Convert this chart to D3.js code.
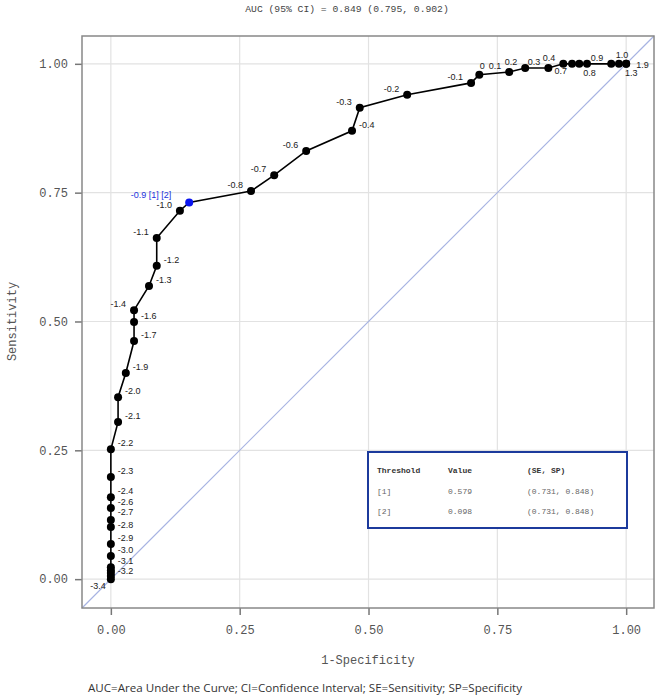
<!DOCTYPE html>
<html>
<head>
<meta charset="utf-8">
<script src="https://cdn.jsdelivr.net/npm/d3@7"></script>
<style>
  body { margin: 0; background: #fff; }
  svg { display: block; }
</style>
</head>
<body>
<svg id="chart"></svg>
<script>
const width = 659;
const height = 700;

// ROC points, from (0,0) up to (1,1)
const thresholds = ["-3.4", "", "-3.2", "", "-3.1", "-3.0", "-2.9", "-2.8", "-2.7", "-2.6", "-2.4", "-2.3", "-2.2",
  "-2.1", "-2.0", "-1.9", "-1.7", "-1.6", "-1.4", "-1.3", "-1.2", "-1.1", "-1.0", "-0.9 [1] [2]", "-0.8", "-0.7", "-0.6",
  "-0.4", "-0.3", "-0.2", "-0.1", "0", "0.1", "0.2", "0.3", "0.4", "0.7", "0.8", "", "0.9", "1.0", "1.3", "1.9"];
const fpr = [0, 0, 0, 0, 0, 0, 0, 0, 0, 0, 0, 0, 0,
  0.014, 0.014, 0.029, 0.045, 0.045, 0.045, 0.074, 0.089, 0.089, 0.134, 0.152, 0.272, 0.317, 0.379,
  0.468, 0.483, 0.575, 0.699, 0.715, 0.773, 0.804, 0.849, 0.878, 0.895, 0.909, 0.924, 0.971, 0.986, 1.0, 1.0];
const sens = [0, 0.006, 0.012, 0.017, 0.023, 0.045, 0.068, 0.101, 0.115, 0.138, 0.159, 0.198, 0.252,
  0.305, 0.353, 0.400, 0.462, 0.499, 0.522, 0.569, 0.608, 0.662, 0.715, 0.731, 0.753, 0.784, 0.831,
  0.870, 0.915, 0.940, 0.963, 0.979, 0.984, 0.992, 0.992, 1.0, 1.0, 1.0, 1.0, 1.0, 1.0, 1.0, 1.0];
const highlighted = ["-0.9 [1] [2]"];

// where each threshold label sits relative to its dot
const labelSide = ["lb", "r", "rd", "r", "r", "r", "r", "rd", "ru", "r", "r", "r", "r",
  "r", "r", "r", "r", "r", "l", "r", "r", "l", "l", "lx", "l", "l", "l",
  "r", "l", "l", "l", "a", "l", "l", "l", "l", "lb", "rb", "r", "l", "a", "b", "rr"];

const ticks = [0, 0.25, 0.5, 0.75, 1];
const legendRows = [
  ["Threshold", "Value", "(SE, SP)"],
  ["[1]", "0.579", "(0.731, 0.848)"],
  ["[2]", "0.098", "(0.731, 0.848)"]
];
const titleText = "AUC (95% CI) = 0.849 (0.795, 0.902)";
const captionText = "AUC=Area Under the Curve; CI=Confidence Interval; SE=Sensitivity; SP=Specificity";

const mono = "'Liberation Mono', 'DejaVu Sans Mono', monospace";
const sans = "Arial, 'Liberation Sans', sans-serif";

const svg = d3.select("#chart")
  .attr("width", width)
  .attr("height", height);

svg.append("rect").attr("width", width).attr("height", height).attr("fill", "#fff");

const dom = [-0.056, 1.054];
const x = d3.scaleLinear().domain(dom).range([82, 654]);
const y = d3.scaleLinear().domain(dom).range([608, 36]);

// grid
const grid = svg.append("g").attr("stroke", "#e2e2e2").attr("stroke-width", 1.2);
grid.selectAll(".gx").data(ticks).join("line")
  .attr("x1", d => x(d)).attr("x2", d => x(d))
  .attr("y1", y(dom[0])).attr("y2", y(dom[1]));
grid.selectAll(".gy").data(ticks).join("line")
  .attr("y1", d => y(d)).attr("y2", d => y(d))
  .attr("x1", x(dom[0])).attr("x2", x(dom[1]));

// reference diagonal
svg.append("line")
  .attr("x1", x(dom[0])).attr("y1", y(dom[0]))
  .attr("x2", x(dom[1])).attr("y2", y(dom[1]))
  .attr("stroke", "#a7b3e2").attr("stroke-width", 1.2);

// axes
const fmt = d3.format(".2f");
const xAxis = svg.append("g")
  .attr("transform", `translate(0,${y(dom[0])})`)
  .call(d3.axisBottom(x).tickValues(ticks).tickFormat(fmt).tickSize(7).tickPadding(10));
const yAxis = svg.append("g")
  .attr("transform", `translate(${x(dom[0])},0)`)
  .call(d3.axisLeft(y).tickValues(ticks).tickFormat(fmt).tickSize(7).tickPadding(7));
[xAxis, yAxis].forEach(a => {
  a.select(".domain").remove();
  a.selectAll("line").attr("stroke", "#777").attr("stroke-width", 1.5);
  a.selectAll("text").attr("fill", "#555").style("font-family", mono).style("font-size", "12px");
});

// frame
svg.append("rect")
  .attr("x", x(dom[0])).attr("y", y(dom[1]))
  .attr("width", x(dom[1]) - x(dom[0])).attr("height", y(dom[0]) - y(dom[1]))
  .attr("fill", "none").attr("stroke", "#888").attr("stroke-width", 1.5);

// curve
const pts = thresholds.map((t, i) => ({ t, fx: fpr[i], sy: sens[i], side: labelSide[i] }));
svg.append("path")
  .datum(pts)
  .attr("fill", "none").attr("stroke", "#000").attr("stroke-width", 1.6)
  .attr("d", d3.line().x(d => x(d.fx)).y(d => y(d.sy)));

svg.append("g").selectAll("circle").data(pts).join("circle")
  .attr("cx", d => x(d.fx)).attr("cy", d => y(d.sy)).attr("r", 4)
  .attr("fill", d => highlighted.includes(d.t) ? "#0a14f0" : "#000");

const offsets = {
  r: [7, -3, "start"], ru: [7, -5, "start"], rd: [7, 1, "start"],
  l: [-8, -3, "end"], lx: [-18, -4, "end"],
  lb: [-5, 10, "end"], rb: [4, 12, "start"], a: [3, -6, "middle"],
  b: [5, 12, "middle"], rr: [10, 4, "start"]
};
svg.append("g").selectAll("text").data(pts.filter(d => d.t)).join("text")
  .attr("x", d => x(d.fx) + offsets[d.side][0])
  .attr("y", d => y(d.sy) + offsets[d.side][1])
  .attr("text-anchor", d => offsets[d.side][2])
  .attr("fill", d => highlighted.includes(d.t) ? "#2233dd" : "#222")
  .style("font-family", sans).style("font-size", "9px")
  .text(d => d.t);

// legend table
const lg = svg.append("g");
lg.append("rect").attr("x", 368).attr("y", 452).attr("width", 259).attr("height", 76)
  .attr("fill", "#fff").attr("stroke", "#1c3a9c").attr("stroke-width", 2);
const colX = [377, 448, 527];
legendRows.forEach((row, r) => {
  row.forEach((cell, c) => {
    lg.append("text")
      .attr("x", colX[c]).attr("y", 473 + r * 20.5)
      .attr("fill", r === 0 ? "#333" : "#666")
      .style("font-family", mono).style("font-size", "8px")
      .style("font-weight", r === 0 ? "bold" : "normal")
      .text(cell);
  });
});

// titles
svg.append("text").attr("x", 347).attr("y", 12).attr("text-anchor", "middle")
  .attr("fill", "#444").style("font-family", mono).style("font-size", "9.7px")
  .text(titleText);
svg.append("text").attr("x", 368).attr("y", 664).attr("text-anchor", "middle")
  .attr("fill", "#555").style("font-family", mono).style("font-size", "12px")
  .text("1-Specificity");
svg.append("text").attr("transform", `translate(16,${y(0.5)}) rotate(-90)`)
  .attr("text-anchor", "middle")
  .attr("fill", "#555").style("font-family", mono).style("font-size", "12px")
  .text("Sensitivity");
svg.append("text").attr("x", 88).attr("y", 692)
  .attr("fill", "#333").style("font-family", "'Open Sans', 'Noto Sans', sans-serif").style("font-size", "10.5px")
  .attr("textLength", 434).attr("lengthAdjust", "spacingAndGlyphs")
  .text(captionText);
</script>
</body>
</html>
